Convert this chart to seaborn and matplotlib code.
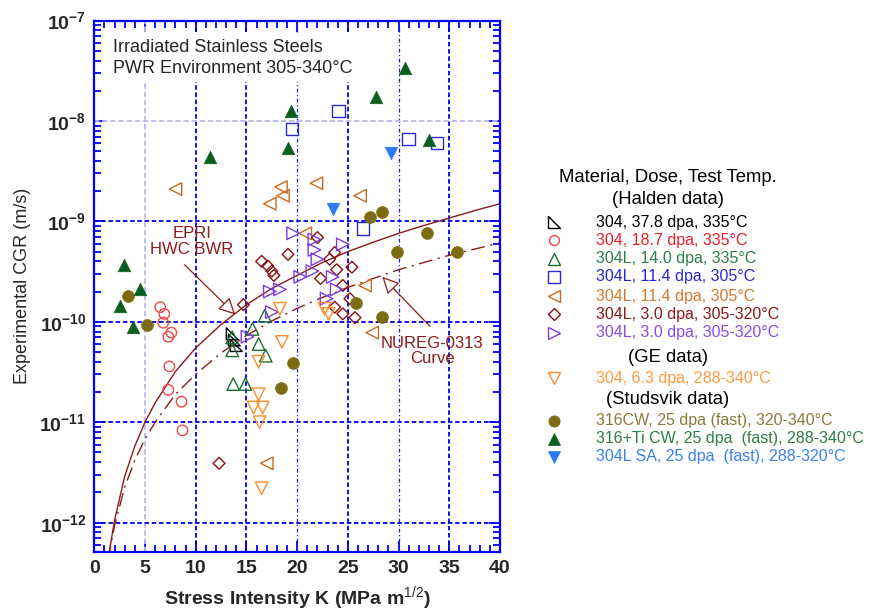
import math
import matplotlib
matplotlib.use('Agg')
import matplotlib.pyplot as plt
import seaborn as sns
from matplotlib.path import Path
from matplotlib.lines import Line2D
from matplotlib.ticker import FixedLocator, MultipleLocator, FuncFormatter, NullFormatter

sns.set_style('ticks')
plt.rcParams['font.family'] = ['Liberation Sans', 'DejaVu Sans']
plt.rcParams['mathtext.fontset'] = 'custom'
plt.rcParams['mathtext.rm'] = 'Liberation Sans'
plt.rcParams['mathtext.bf'] = 'Liberation Sans:bold'
plt.rcParams['mathtext.it'] = 'Liberation Sans:italic'

# ---- data (K in MPa m^1/2, CGR in m/s) ----
# Halden data
k_304_378 = [13.6, 13.8, 14.0]
cgr_304_378 = [7.6e-11, 6.6e-11, 5.8e-11]

k_304_187 = [6.5, 6.9, 6.8, 7.6, 7.3, 7.4, 7.3, 8.6, 8.7]
cgr_304_187 = [1.4e-10, 1.2e-10, 9.8e-11, 7.8e-11, 7.1e-11, 3.6e-11, 2.1e-11, 1.6e-11, 8.3e-12]

k_304l_140 = [13.6, 13.6, 13.7, 14.9, 15.6, 16.2, 16.9, 16.8]
cgr_304l_140 = [7.0e-11, 5.2e-11, 2.4e-11, 2.4e-11, 8.5e-11, 6.0e-11, 4.6e-11, 1.15e-10]

k_304l_114a = [19.5, 24.1, 31.0, 33.8, 26.5]
cgr_304l_114a = [8.3e-9, 1.26e-8, 6.6e-9, 6.0e-9, 8.5e-10]

k_304l_114b = [8.0, 18.4, 18.6, 17.3, 21.9, 26.2, 20.8, 26.7, 27.4, 17.0]
cgr_304l_114b = [2.1e-9, 2.2e-9, 1.8e-9, 1.5e-9, 2.4e-9, 1.8e-9, 7.6e-10, 2.3e-10, 7.8e-11, 3.9e-12]

k_304l_30a = [12.3, 14.7, 16.5, 17.1, 17.5, 17.7, 19.1, 22.0, 22.3, 23.2, 23.7, 23.9,
              24.5, 25.4, 25.2, 23.7, 24.5, 25.7]
cgr_304l_30a = [3.9e-12, 1.48e-10, 4.0e-10, 3.6e-10, 3.2e-10, 2.9e-10, 4.7e-10, 6.9e-10, 2.7e-10,
                4.2e-10, 4.9e-10, 3.3e-10, 2.3e-10, 3.5e-10, 1.7e-10, 1.4e-10, 1.2e-10, 1.1e-10]

k_304l_30b = [15.1, 17.3, 18.3, 17.5, 19.6, 20.3, 21.5, 21.7, 21.7, 22.0, 22.9, 23.5, 23.9, 24.5]
cgr_304l_30b = [7.1e-11, 2.0e-10, 2.1e-10, 1.25e-10, 7.6e-10, 2.8e-10, 3.2e-10, 6.6e-10, 5.2e-10,
                4.2e-10, 1.7e-10, 2.8e-10, 2.1e-10, 5.9e-10]

# GE data
k_304_63 = [18.3, 22.7, 23.1, 18.5, 16.2, 16.2, 15.7, 16.6, 16.3, 16.5]
cgr_304_63 = [1.35e-10, 1.35e-10, 1.2e-10, 6.3e-11, 4.0e-11, 1.9e-11, 1.4e-11, 1.4e-11, 1.0e-11, 2.2e-12]

# Studsvik data
k_316cw = [3.3, 5.2, 19.6, 18.4, 27.2, 28.4, 32.8, 29.8, 35.8, 25.8, 28.4]
cgr_316cw = [1.8e-10, 9.3e-11, 3.9e-11, 2.2e-11, 1.1e-9, 1.23e-9, 7.6e-10, 5.0e-10, 4.9e-10, 1.55e-10, 1.12e-10]

k_316ti = [2.9, 4.5, 2.5, 3.8, 11.4, 19.4, 19.1, 27.8, 30.6, 33.0]
cgr_316ti = [3.7e-10, 2.1e-10, 1.44e-10, 8.9e-11, 4.4e-9, 1.26e-8, 5.4e-9, 1.73e-8, 3.4e-8, 6.5e-9]

k_304lsa = [23.5, 29.3]
cgr_304lsa = [1.32e-9, 4.8e-9]

# disposition curves
k_curve = [1.4, 1.6, 2, 3, 4, 5, 6, 8, 10, 12.5, 15, 17.5, 20, 22.5, 25, 27.5, 30, 32.5, 35, 37.5, 40]
cgr_epri = [4.4e-13, 6.1e-13, 1.06e-12, 2.9e-12, 5.8e-12, 1.0e-11, 1.56e-11, 3.2e-11, 5.5e-11,
            9.4e-11, 1.48e-10, 2.15e-10, 2.9e-10, 3.9e-10, 5.0e-10, 6.2e-10, 7.6e-10, 9.1e-10,
            1.08e-9, 1.28e-9, 1.5e-9]
cgr_nureg = [4.3e-13, 5.8e-13, 9.4e-13, 2.26e-12, 4.2e-12, 6.8e-12, 1.0e-11, 1.9e-11, 3.0e-11,
             4.9e-11, 7.3e-11, 1.02e-10, 1.36e-10, 1.75e-10, 2.2e-10, 2.7e-10, 3.3e-10, 3.9e-10,
             4.6e-10, 5.3e-10, 6.1e-10]

y_decades = [1e-12, 1e-11, 1e-10, 1e-9, 1e-8, 1e-7]
x_ticks = [0, 5, 10, 15, 20, 25, 30, 35, 40]

# ---- styles ----
RT = Path([(-1, 1), (-1, -1), (1, -1), (-1, 1)], [Path.MOVETO, Path.LINETO, Path.LINETO, Path.CLOSEPOLY])
CURVE = '#8b1a1a'

series = [
    # k, cgr, marker, marker colour, size, filled, label, text colour
    (k_304_378, cgr_304_378, RT, '#000000', 8.5, False, '304, 37.8 dpa, 335°C', '#000000'),
    (k_304_187, cgr_304_187, 'o', '#f04848', 7.5, False, '304, 18.7 dpa, 335°C', '#e8202a'),
    (k_304l_140, cgr_304l_140, '^', '#1d6e30', 9, False, '304L, 14.0 dpa, 335°C', '#2e7d4a'),
    (k_304l_114a, cgr_304l_114a, 's', '#2a2ad0', 9, False, '304L, 11.4 dpa, 305°C', '#2626d8'),
    (k_304l_114b, cgr_304l_114b, '<', '#cc6a1a', 9, False, '304L, 11.4 dpa, 305°C', '#d07a30'),
    (k_304l_30a, cgr_304l_30a, 'D', '#8b1010', 6, False, '304L, 3.0 dpa, 305-320°C', '#8b1a1a'),
    (k_304l_30b, cgr_304l_30b, '>', '#7b3fe0', 9, False, '304L, 3.0 dpa, 305-320°C', '#8a4ae8'),
    (k_304_63, cgr_304_63, 'v', '#ff8c28', 9, False, '304, 6.3 dpa, 288-340°C', '#ff9a40'),
    (k_316cw, cgr_316cw, 'o', '#7d6b12', 8.5, True, '316CW, 25 dpa (fast), 320-340°C', '#8a7a3a'),
    (k_316ti, cgr_316ti, '^', '#0b5e1e', 9, True, '316+Ti CW, 25 dpa  (fast), 288-340°C', '#2e7d4a'),
    (k_304lsa, cgr_304lsa, 'v', '#2a7af5', 9, True, '304L SA, 25 dpa  (fast), 288-320°C', '#3a80f0'),
]

fig = plt.figure(figsize=(8.74, 6.15), dpi=100)
ax = fig.add_axes([0.1079, 0.1024, 0.4642, 0.8642])
ax.set_yscale('log')

# grid (drawn by hand: three different looks in the original)
dark = dict(color='#0000e6', lw=1.3, ls=(0, (2.5, 1.5)), zorder=1)
thin = dict(color='#1a1ae0', lw=0.9, ls=(0, (3, 2, 1, 2)), zorder=1)
light = dict(color='#b8b8f0', lw=1.3, ls=(0, (3, 1.5)), zorder=1)
for xv in [10, 15, 25, 35]:
    ax.axvline(xv, **dark)
for xv in [20, 30]:
    ax.axvline(xv, **thin)
ax.axvline(5, **light)
for yv in [1e-9, 1e-10, 1e-11, 1e-12]:
    ax.axhline(yv, **dark)
ax.axhline(1e-8, **light)

# curves
sns.lineplot(x=k_curve, y=cgr_epri, ax=ax, color=CURVE, linewidth=1.0, zorder=3)
sns.lineplot(x=k_curve, y=cgr_nureg, ax=ax, color=CURVE, linewidth=1.0,
             linestyle=(0, (10, 4, 1.5, 4)), zorder=3)

for k, cgr, m, c, sz, filled, lab, tc in series:
    if filled:
        sns.scatterplot(x=k, y=cgr, ax=ax, marker=m, s=sz ** 2, color=c, edgecolor=c,
                        linewidth=0.5, zorder=5)
    else:
        sns.scatterplot(x=k, y=cgr, ax=ax, marker=m, s=sz ** 2, facecolor='none', edgecolor=c,
                        linewidth=1.0, zorder=5)

ax.set_xlim(0, 40)
ax.set_ylim(5.1e-13, 1e-7)

# annotations
arrow = dict(arrowstyle='-|>,head_length=0.6,head_width=0.3', fc='white', ec=CURVE,
             lw=0.9, mutation_scale=17, shrinkA=0, shrinkB=0)
ax.text(9.6, 6.3e-10, 'EPRI\nHWC BWR', color=CURVE, fontsize=12, ha='center', va='center',
        linespacing=1.05, zorder=6)
ax.annotate('', xy=(13.9, 1.18e-10), xytext=(8.9, 3.7e-10), arrowprops=arrow, zorder=6)
ax.text(33.3, 5.1e-11, 'NUREG-0313\nCurve', color=CURVE, fontsize=12, ha='center', va='center',
        linespacing=1.05, zorder=6)
ax.annotate('', xy=(28.4, 2.8e-10), xytext=(33.1, 9.0e-11), arrowprops=arrow, zorder=6)

ax.text(0.046, 0.966, 'Irradiated Stainless Steels\nPWR Environment 305-340°C', transform=ax.transAxes,
        fontsize=13, ha='left', va='top', linespacing=1.32, zorder=4,
        bbox=dict(facecolor='white', edgecolor='none', pad=4))

# axes styling
for sp in ax.spines.values():
    sp.set_color('#0000ff')
    sp.set_linewidth(1.6)
    sp.set_zorder(7)
ax.xaxis.set_major_locator(FixedLocator(x_ticks))
ax.xaxis.set_minor_locator(MultipleLocator(1))
ax.yaxis.set_major_locator(FixedLocator(y_decades))
minor_y = [m * d for d in [1e-13] + y_decades[:-1] for m in range(2, 10) if 5.1e-13 <= m * d <= 1e-7]
ax.yaxis.set_minor_locator(FixedLocator(minor_y))
ax.yaxis.set_minor_formatter(NullFormatter())
ax.yaxis.set_major_formatter(FuncFormatter(lambda v, p: r'$\mathbf{10^{%d}}$' % round(math.log10(v))))
ax.tick_params(which='both', direction='in', top=True, right=True, color='#0000ff', width=1.3)
ax.tick_params(which='major', length=8, labelsize=14, pad=6)
ax.tick_params(which='minor', length=5)
for lb in ax.get_xticklabels():
    lb.set_fontweight('bold')
ax.set_xlabel(r'Stress Intensity K (MPa m$^{1/2}$)', fontsize=14, fontweight='bold', labelpad=5)
ax.set_ylabel('Experimental CGR (m/s)', fontsize=13, labelpad=6)

# legend drawn by hand on the right
W, H = 874.0, 615.0
def fx(px):
    return px / W
def fy(py):
    return 1 - py / H

for txt, py in [('Material, Dose, Test Temp.', 177), ('(Halden data)', 200),
                ('(GE data)', 357), ('(Studsvik data)', 399)]:
    fig.text(fx(668), fy(py), txt, fontsize=13.3, ha='center', va='center', color='black')

rows = [222, 240, 259, 277, 296, 314, 333, 378, 421, 439, 457]
for (k, cgr, m, c, sz, filled, lab, tc), py in zip(series, rows):
    fig.add_artist(Line2D([fx(554)], [fy(py)], transform=fig.transFigure, marker=m, markersize=sz * 0.95,
                          linestyle='none', mfc=c if filled else 'none', mec=c, mew=1.0 if not filled else 0.5))
    fig.text(fx(596), fy(py), lab, fontsize=11.5, ha='left', va='center', color=tc)

fig.savefig('out.png', dpi=100)
